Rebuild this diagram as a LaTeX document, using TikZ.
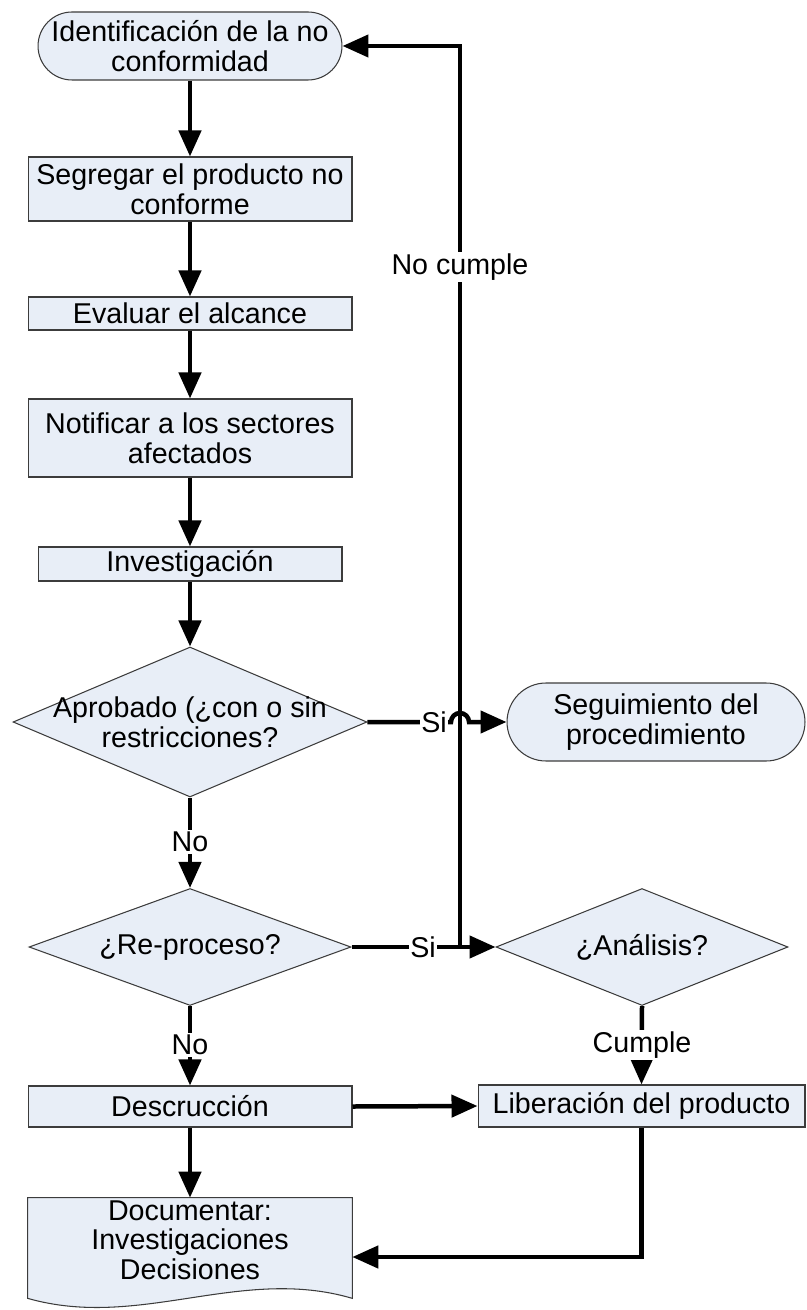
\documentclass[tikz,border=0pt]{standalone}
\usepackage{fontspec}
\setmainfont{Liberation Sans}
\usetikzlibrary{arrows.meta,shapes.geometric,calc,backgrounds}

\definecolor{boxfill}{RGB}{232,238,247}
\definecolor{boxline}{RGB}{60,60,60}

\tikzset{
  txt/.style={align=center, font=\fontsize{16.3pt}{16.9pt}\selectfont},
  base/.style={txt, draw=boxline, line width=0.6pt, fill=boxfill, inner sep=0pt},
  proc/.style={base, rectangle, minimum width=6.48cm},
  term/.style={base, rectangle, rounded corners=#1},
  decision/.style={base, diamond},
  flow/.style={line width=0.09cm, -{Triangle[length=0.52cm,width=0.44cm]}},
  lbl/.style={txt, fill=white, inner sep=1pt},
}

\begin{document}
\begin{tikzpicture}[x=0.02cm, y=-0.02cm]
  \useasboundingbox (0,0) rectangle (806,1310);

  % main column
  \node[term=0.68cm, minimum width=6.08cm, minimum height=1.36cm] (start) at (190,46) {Identificación de la no\\conformidad};
  \node[proc, minimum height=1.28cm] (segregar) at (190,189) {Segregar el producto no\\conforme};
  \node[proc, minimum height=0.66cm] (evaluar) at (190,313.5) {Evaluar el alcance};
  \node[proc, minimum height=1.56cm] (notificar) at (190,438) {Notificar a los sectores\\afectados};
  \node[proc, minimum width=6.08cm, minimum height=0.68cm] (investigacion) at (190,564) {Investigación};
  \node[decision, minimum width=7.08cm, minimum height=3cm,
        label={[txt]center:Aprobado (¿con o sin\\restricciones?}] (aprobado) at (190,722) {};
  \node[decision, minimum width=6.44cm, minimum height=2.34cm,
        label={[txt]center:¿Re-proceso?}] (reproceso) at (190,947) {};
  \node[proc, minimum height=0.82cm] (descruccion) at (190,1106.5) {Descrucción};
  \node[txt, minimum width=6.48cm, minimum height=2cm, inner sep=0pt, text depth=0.32cm] (docu) at (190,1248) {Documentar:\\Investigaciones\\Decisiones};
  \begin{scope}[on background layer]
    \draw[base] (docu.north west) -- (docu.north east) -- (docu.south east)
      .. controls ($(docu.south east)+(-112,-33)$) and ($(docu.south west)+(112,32)$) .. (docu.south west) -- cycle;
  \end{scope}

  % right column
  \node[term=0.78cm, minimum width=5.96cm, minimum height=1.56cm] (seguimiento) at (656,722) {Seguimiento del\\procedimiento};
  \node[decision, minimum width=5.84cm, minimum height=2.34cm,
        label={[txt]center:¿Análisis?}] (analisis) at (642,947) {};
  \node[proc, minimum width=6.54cm, minimum height=0.84cm] (liberacion) at (641.5,1106) {Liberación del producto};

  % connectors
  \draw[flow] (start.south) -- (segregar.north);
  \draw[flow] (segregar.south) -- (evaluar.north);
  \draw[flow] (evaluar.south) -- (notificar.north);
  \draw[flow] (notificar.south) -- (investigacion.north);
  \draw[flow] (investigacion.south) -- (aprobado.north);
  \draw[flow] (aprobado.south) -- (reproceso.north);
  \draw[flow] (reproceso.south) -- (descruccion.north);
  \draw[flow] (descruccion.south) -- (docu.north);
  \draw[flow] (descruccion.east) -- (liberacion.west);
  \draw[flow] (analisis.south) -- (liberacion.north);
  \draw[flow] (liberacion.south) |- ([yshift=-0.18cm]docu.east);

  \coordinate (salto) at (460,722);
  \coordinate (retorno) at (460,947);
  \draw[flow] (reproceso.east) -- (analisis.west);
  \draw[flow] (retorno) |- (start.east);
  \draw[flow] (aprobado.east) -- ([xshift=-0.18cm]salto)
    arc[start angle=180, end angle=0, radius=0.18cm] -- (seguimiento.west);

  % labels
  \node[lbl] (si1) at (434,722) {Si};
  \node[lbl] (si2) at (423,947) {Si};
  \node[lbl] (no1) at (190,842) {No};
  \node[lbl] (no2) at (190,1045) {No};
  \node[lbl] (cumple) at (642,1045) {Cumple};
  \node[lbl] (nocumple) at (460,267) {No cumple};
\end{tikzpicture}
\end{document}
